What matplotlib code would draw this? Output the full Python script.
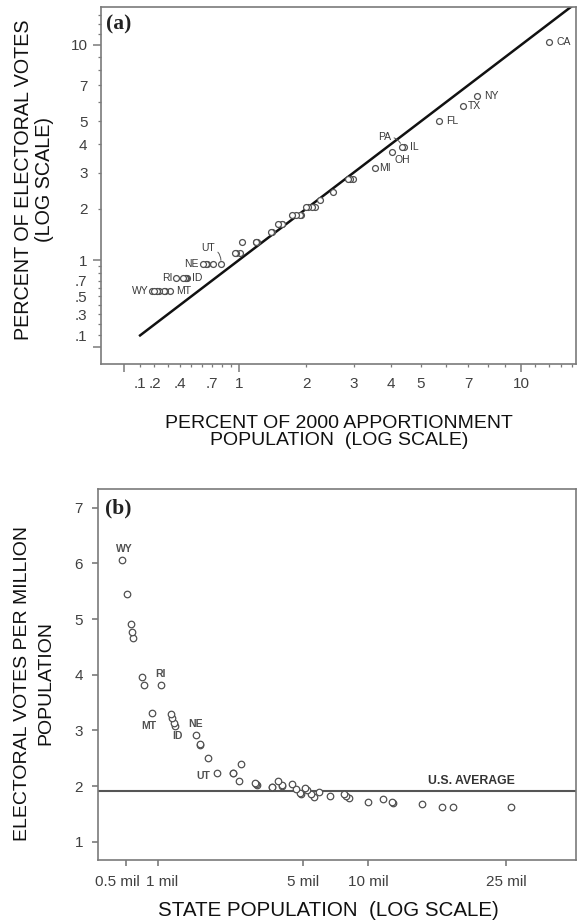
import numpy as np
import matplotlib
matplotlib.use('Agg')
import matplotlib.pyplot as plt
from matplotlib.ticker import FixedLocator, FuncFormatter

plt.rcParams['font.family'] = ['Liberation Sans', 'DejaVu Sans']

# states incl. DC (last)
states = ['CA','TX','NY','FL','IL','PA','OH','MI','NJ','GA','NC','VA','MA','IN','WA','TN','MO',
          'WI','MD','AZ','MN','LA','AL','CO','KY','SC','OK','OR','CT','IA','MS','KS','AR','UT',
          'NV','NM','WV','NE','ID','ME','NH','HI','RI','MT','DE','SD','ND','AK','VT','WY','DC']

# panel (a): percent of apportionment population / percent of electoral votes
pct_pop = [12.06, 7.43, 6.75, 5.70, 4.42, 4.37, 4.04, 3.54, 2.99, 2.92, 2.87, 2.52, 2.26, 2.16,
           2.10, 2.03, 1.99, 1.91, 1.89, 1.83, 1.75, 1.59, 1.59, 1.53, 1.44, 1.43, 1.23, 1.22,
           1.21, 1.04, 1.01, 0.96, 0.95, 0.79, 0.71, 0.65, 0.64, 0.61, 0.46, 0.45, 0.44, 0.43,
           0.37, 0.32, 0.28, 0.27, 0.23, 0.22, 0.22, 0.18, 0.20]
pct_ev = [10.22, 6.32, 5.76, 5.02, 3.90, 3.90, 3.72, 3.16, 2.79, 2.79, 2.79, 2.42, 2.23, 2.04,
          2.04, 2.04, 2.04, 1.86, 1.86, 1.86, 1.86, 1.67, 1.67, 1.67, 1.49, 1.49, 1.30, 1.30,
          1.30, 1.30, 1.12, 1.12, 1.12, 0.93, 0.93, 0.93, 0.93, 0.93, 0.74, 0.74, 0.74, 0.74,
          0.74, 0.56, 0.56, 0.56, 0.56, 0.56, 0.56, 0.56, 0.56]
diag = [0.1, 15]

# panel (b): population (millions) / electoral votes per million
pop_mil = [33.93, 20.90, 19.00, 16.03, 12.44, 12.30, 11.37, 9.96, 8.42, 8.21, 8.07, 7.10, 6.36,
           6.09, 5.91, 5.70, 5.61, 5.37, 5.31, 5.14, 4.93, 4.48, 4.46, 4.31, 4.05, 4.03, 3.46,
           3.43, 3.41, 2.93, 2.85, 2.69, 2.68, 2.24, 2.00, 1.82, 1.81, 1.72, 1.30, 1.28, 1.24,
           1.22, 1.05, 0.91, 0.79, 0.76, 0.64, 0.63, 0.61, 0.50, 0.56]
ev_per_mil = [1.62, 1.63, 1.63, 1.68, 1.69, 1.71, 1.76, 1.71, 1.78, 1.83, 1.86, 1.83, 1.89,
              1.81, 1.86, 1.93, 1.96, 1.86, 1.88, 1.95, 2.03, 2.01, 2.02, 2.09, 1.98, 1.99,
              2.02, 2.04, 2.05, 2.39, 2.10, 2.23, 2.24, 2.24, 2.50, 2.74, 2.76, 2.91, 3.08,
              3.13, 3.23, 3.29, 3.81, 3.31, 3.82, 3.96, 4.66, 4.77, 4.92, 6.06, 5.45]
us_avg = 1.91

# x ticks of (b) sit where the original drew them
xticks_b = [0.548, 1.0, 5.5, 10, 32.5]
xticklabels_b = ['0.5 mil', '1 mil', '5 mil', '10 mil', '25 mil']
xtick_dx = [-6, 3.4, 0, 0, 0]

# label offsets (points) : dx, dy, ha ; text as printed in the original (NY/TX swapped there)
lab_a = {'CA': ('CA', 5, 0, 'left'), 'TX': ('NY', 5, 0, 'left'), 'NY': ('TX', 3.5, 0, 'left'),
         'FL': ('FL', 5, 0, 'left'), 'IL': ('IL', 4, 0, 'left'), 'OH': ('OH', 2, -6, 'left'),
         'MI': ('MI', 3, 0, 'left'), 'NE': ('NE', -3, 0, 'right'), 'RI': ('RI', -3, 0, 'right'),
         'ID': ('ID', 4, 0, 'left'), 'WY': ('WY', -2.5, 0, 'right'), 'MT': ('MT', 4, 0, 'left')}
lab_b = {'WY': (1.5, 8, 'center'), 'RI': (0, 8, 'center'), 'MT': (-2, -9, 'center'),
         'ID': (1.5, -7, 'center'), 'NE': (0, 8, 'center'), 'UT': (-5, -2, 'right')}


def fwd(v):
    return np.log10(np.clip(1 + np.asarray(v, dtype=float), 1e-9, None))


def inv(t):
    return 10 ** np.asarray(t, dtype=float) - 1


spine_c = '#7a7a7a'
tick_c = '#404040'
pt_c = '#505050'
lab_c = '#383838'
title_c = '#111111'

fig = plt.figure(figsize=(5.77, 9.21), dpi=100)

# ---------------- (a)
ax1 = fig.add_axes([100.7/577, 1-364/921, (576-100.7)/577, (364-7)/921])
ax1.set_xscale('function', functions=(fwd, inv))
ax1.set_yscale('function', functions=(fwd, inv))
ax1.plot(diag, diag, color='#111111', lw=1.8, zorder=2)
ax1.scatter(pct_pop, pct_ev, s=18, facecolors='white', edgecolors=pt_c, linewidths=0.9, zorder=3)
ax1.set_xlim(-0.133, 14.33)
ax1.set_ylim(-0.123, 13.86)

for s, (txt, dx, dy, ha) in lab_a.items():
    i = states.index(s)
    ax1.annotate(txt, (pct_pop[i], pct_ev[i]), xytext=(dx, dy), textcoords='offset points',
                 ha=ha, va='center', fontsize=7.5, color=lab_c)
i = states.index('PA')
ax1.annotate('PA', (pct_pop[i], pct_ev[i]), xytext=(-8, 7), textcoords='offset points',
             ha='right', va='center', fontsize=7.5, color=lab_c,
             arrowprops=dict(arrowstyle='-', color='#555555', lw=0.7, shrinkA=0, shrinkB=3,
                             connectionstyle='arc3,rad=-0.4'))
i = states.index('UT')
ax1.annotate('UT', (pct_pop[i], pct_ev[i]), xytext=(-4, 12), textcoords='offset points',
             ha='right', va='center', fontsize=7.5, color=lab_c,
             arrowprops=dict(arrowstyle='-', color='#555555', lw=0.7, shrinkA=0, shrinkB=3,
                             connectionstyle='arc3,rad=-0.5'))

maj = [0, 1, 10]
mnr = [0.1, 0.2, 0.3, 0.4, 0.5, 0.6, 0.7, 0.8, 0.9, 2, 3, 4, 5, 6, 7, 8, 9, 11, 12, 13, 14]
xlab_a = {0.1: '.1', 0.2: '.2', 0.4: '.4', 0.7: '.7', 2: '2', 3: '3', 4: '4', 5: '5', 7: '7'}
ylab_a = {0.1: '.1', 0.3: '.3', 0.5: '.5', 0.7: '.7', 2: '2', 3: '3', 4: '4', 5: '5', 7: '7'}
majlab = {1: '1', 10: '10'}
for axis, mlab in ((ax1.xaxis, xlab_a), (ax1.yaxis, ylab_a)):
    axis.set_major_locator(FixedLocator(maj))
    axis.set_minor_locator(FixedLocator(mnr))
    axis.set_major_formatter(FuncFormatter(lambda v, p: majlab.get(int(round(v)), '') if v >= 1 else ''))
    axis.set_minor_formatter(FuncFormatter(lambda v, p, m=mlab: m.get(round(v, 1) if v < 1 else int(round(v)), '')))
ax1.tick_params(which='major', length=6, width=1.1, pad=3.5, color=spine_c, labelsize=11, labelcolor=tick_c)
ax1.tick_params(which='minor', length=2.5, width=0.9, pad=7, color=spine_c, labelsize=11, labelcolor=tick_c)
for sp in ax1.spines.values():
    sp.set_color(spine_c)
    sp.set_linewidth(1.2)
ax1.text(0.012, 0.98, '(a)', transform=ax1.transAxes, ha='left', va='top',
         fontsize=15.5, fontweight='bold', family='Liberation Serif', color='#222222')

fig.text(34/577, 1-180/921, 'PERCENT OF ELECTORAL VOTES\n(LOG SCALE)', rotation=90,
         ha='center', va='center', multialignment='center', fontsize=14.2, color=title_c,
         linespacing=1.12)
fig.text(339/577, 1-432/921, 'PERCENT OF 2000 APPORTIONMENT\nPOPULATION  (LOG SCALE)',
         ha='center', va='center', multialignment='center', fontsize=14, color=title_c,
         linespacing=1.0)

# ---------------- (b)
ax2 = fig.add_axes([97.7/577, 1-860/921, (576-97.7)/577, (860-489)/921])
ax2.set_xscale('function', functions=(fwd, inv))
ax2.axhline(us_avg, color='#555555', lw=1.5, zorder=2)
ax2.scatter(pop_mil, ev_per_mil, s=22, facecolors='white', edgecolors=pt_c, linewidths=0.9, zorder=3)
ax2.set_xlim(0.231, 58.1)
ax2.set_ylim(0.673, 7.336)
ax2.xaxis.set_major_locator(FixedLocator(xticks_b))
ax2.xaxis.set_minor_locator(FixedLocator([]))
ax2.xaxis.set_major_formatter(FuncFormatter(lambda v, p: ''))
ax2.set_yticks([1, 2, 3, 4, 5, 6, 7])
ax2.tick_params(axis='x', length=4.3, width=1.2, color=spine_c)
ax2.tick_params(axis='y', length=4.5, width=1.2, pad=6, color=spine_c, labelsize=11, labelcolor=tick_c)
for xv, lbl, dx in zip(xticks_b, xticklabels_b, xtick_dx):
    ax2.annotate(lbl, (xv, 0), xycoords=ax2.get_xaxis_transform(), xytext=(dx, -10.5),
                 textcoords='offset points', ha='center', va='top', fontsize=11, color=tick_c)
for sp in ax2.spines.values():
    sp.set_color(spine_c)
    sp.set_linewidth(1.2)

for s, (dx, dy, ha) in lab_b.items():
    i = states.index(s)
    ax2.annotate(s, (pop_mil[i], ev_per_mil[i]), xytext=(dx, dy), textcoords='offset points',
                 ha=ha, va='center', fontsize=7.5, color='#505050', fontweight='bold')
ax2.annotate('U.S. AVERAGE', (24.3, us_avg), xytext=(0, 7.5), textcoords='offset points',
             ha='center', va='center', fontsize=8.8, color='#333333', fontweight='bold')
ax2.text(0.016, 0.975, '(b)', transform=ax2.transAxes, ha='left', va='top',
         fontsize=15.5, fontweight='bold', family='Liberation Serif', color='#222222')

fig.text(34/577, 1-683/921, 'ELECTORAL VOTES PER MILLION\nPOPULATION', rotation=90,
         ha='center', va='center', multialignment='center', fontsize=14, color=title_c,
         linespacing=1.46)
fig.text(328.5/577, 1-910/921, 'STATE POPULATION  (LOG SCALE)',
         ha='center', va='center', fontsize=14.8, color=title_c)

fig.savefig('out.png', dpi=100)
